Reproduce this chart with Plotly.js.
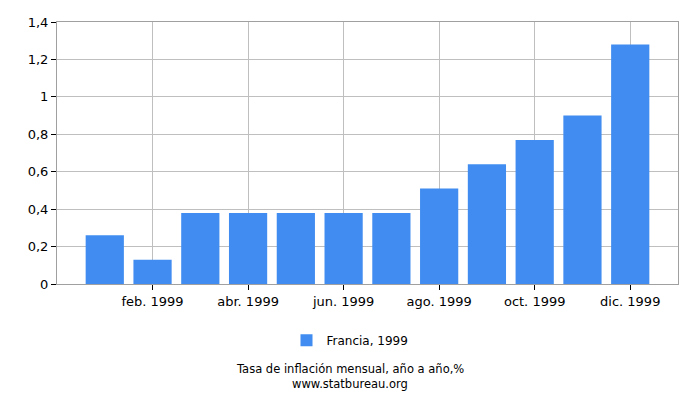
<!DOCTYPE html>
<html>
<head>
<meta charset="utf-8">
<script src="https://cdn.plot.ly/plotly-3.0.1.min.js"></script>
<style>
  html, body { margin: 0; padding: 0; background: #fff; }
  #chart { width: 700px; height: 400px; }
</style>
</head>
<body>
<div id="chart"></div>
<script>
// monthly inflation, France 1999 (year over year, %)
const months = ["ene. 1999", "feb. 1999", "mar. 1999", "abr. 1999", "may. 1999", "jun. 1999",
                "jul. 1999", "ago. 1999", "sep. 1999", "oct. 1999", "nov. 1999", "dic. 1999"];
const values = [0.26, 0.13, 0.38, 0.38, 0.38, 0.38, 0.38, 0.51, 0.64, 0.77, 0.90, 1.28];
const seriesName = "Francia, 1999";
const yTicks = [0, 0.2, 0.4, 0.6, 0.8, 1, 1.2, 1.4];

const idx = months.map((m, i) => i);
// only every second month gets a label
const tickIdx = idx.filter(i => i % 2 === 1);

const font = "DejaVu Sans, Verdana, sans-serif";

const trace = {
  type: "bar",
  x: idx,
  y: values,
  name: seriesName,
  marker: { color: "#418cf0" },
  hoverinfo: "y",
};

// page centre is a bit left of the plot centre (left margin is wider)
const midX = (350 - 57) / 621;

const layout = {
  width: 700,
  height: 400,
  margin: { l: 57, r: 22, t: 22, b: 116 },
  paper_bgcolor: "#fff",
  plot_bgcolor: "#fff",
  separators: ",.",
  bargap: 0.2,
  font: { family: font, size: 13, color: "#000" },
  showlegend: true,
  legend: {
    orientation: "h",
    x: midX, xanchor: "center",
    y: -0.215, yanchor: "middle",
    font: { family: font, size: 12 },
  },
  xaxis: {
    range: [-1, 12],
    tickvals: tickIdx,
    ticktext: tickIdx.map(i => months[i]),
    showgrid: true,
    gridcolor: "#bfbfbf",
    zeroline: false,
    showline: true,
    linecolor: "#a0a0a0",
    mirror: true,
    ticks: "outside",
    ticklen: 5,
    tickcolor: "#000",
    tickfont: { family: font, size: 13 },
  },
  yaxis: {
    range: [0, 1.4],
    tickvals: yTicks,
    showgrid: true,
    gridcolor: "#bfbfbf",
    zeroline: false,
    showline: true,
    linecolor: "#a0a0a0",
    mirror: true,
    ticks: "outside",
    ticklen: 5,
    tickcolor: "#000",
    tickfont: { family: font, size: 13 },
  },
  annotations: [
    {
      text: "Tasa de inflación mensual, año a año,%",
      xref: "paper", yref: "paper", x: midX, y: -0.324,
      xanchor: "center", yanchor: "middle", showarrow: false,
      font: { family: font, size: 11.5 },
    },
    {
      text: "www.statbureau.org",
      xref: "paper", yref: "paper", x: midX, y: -0.381,
      xanchor: "center", yanchor: "middle", showarrow: false,
      font: { family: font, size: 11.5 },
    },
  ],
};

Plotly.newPlot("chart", [trace], layout, { displayModeBar: false, staticPlot: true });
</script>
</body>
</html>
